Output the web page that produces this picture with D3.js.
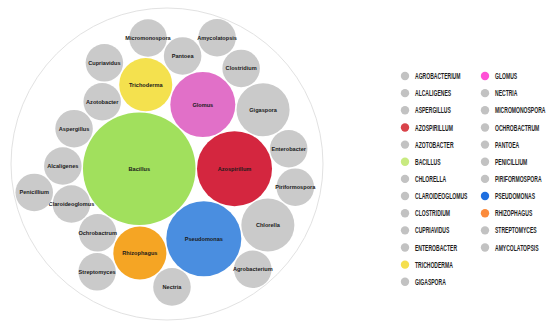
<!DOCTYPE html>
<html>
<head>
<meta charset="utf-8">
<script src="https://cdn.jsdelivr.net/npm/d3@7"></script>
<style>
  body { margin: 0; background: #fff; }
</style>
</head>
<body>
<script>
// genus names, in legend order
let genera = ["Agrobacterium", "Alcaligenes", "Aspergillus", "Azospirillum", "Azotobacter",
  "Bacillus", "Chlorella", "Claroideoglomus", "Clostridium", "Cupriavidus", "Enterobacter",
  "Trichoderma", "Gigaspora", "Glomus", "Nectria", "Micromonospora", "Ochrobactrum",
  "Pantoea", "Penicillium", "Piriformospora", "Pseudomonas", "Rhizophagus",
  "Streptomyces", "Amycolatopsis"];

// counts (same order as genera)
let counts = [1, 1, 1, 4, 1, 9, 2, 1, 1, 1, 1, 2, 2, 3, 1, 1, 1, 1, 1, 1, 4, 2, 1, 1];

// order the bubbles are fed to the pack layout
let packOrder = ["Bacillus", "Azospirillum", "Pseudomonas", "Glomus", "Trichoderma",
  "Rhizophagus", "Gigaspora", "Chlorella", "Azotobacter", "Ochrobactrum", "Pantoea",
  "Nectria", "Enterobacter", "Aspergillus", "Piriformospora", "Claroideoglomus",
  "Clostridium", "Agrobacterium", "Alcaligenes", "Penicillium", "Cupriavidus",
  "Amycolatopsis", "Streptomyces", "Micromonospora"];

// bubble colours, anything not listed is grey
let bubbleColor = {
  Bacillus: "#a1e05d", Azospirillum: "#d4263f", Pseudomonas: "#4a8ee0",
  Glomus: "#e170c8", Trichoderma: "#f4e14e", Rhizophagus: "#f5a524"
};
let legendColor = {
  Bacillus: "#c8ea80", Azospirillum: "#d9434a", Pseudomonas: "#1f6fe0",
  Glomus: "#ff50d6", Trichoderma: "#f5df4e", Rhizophagus: "#fb8b3c"
};
let grey = "#cacaca";

let width = 550, height = 328;

let svg = d3.select("body").append("svg")
    .attr("width", width)
    .attr("height", height);

// pack layout
let data = {children: packOrder.map(g => ({name: g, value: counts[genera.indexOf(g)]}))};
let root = d3.hierarchy(data)
    .sum(d => d.value || 0);

let R = 156;
d3.pack().size([2 * R, 2 * R]).padding(1.5)(root);

let g = svg.append("g")
    .attr("transform", "translate(" + (167 - R) + "," + (164 - R) + ")");

// outer enclosing circle
g.append("circle")
    .attr("cx", root.x)
    .attr("cy", root.y)
    .attr("r", root.r)
    .attr("fill", "#fff")
    .attr("stroke", "#e2e2e2")
    .attr("stroke-width", 1);

let node = g.selectAll("g.node")
    .data(root.leaves())
  .enter().append("g")
    .attr("class", "node")
    .attr("transform", d => "translate(" + d.x + "," + d.y + ")");

node.append("circle")
    .attr("r", d => d.r)
    .attr("fill", d => bubbleColor[d.data.name] || grey);

node.append("text")
    .attr("text-anchor", "middle")
    .attr("dy", "0.35em")
    .style("font-family", "Arial, 'Liberation Sans', sans-serif")
    .style("font-size", "5.6px")
    .style("font-weight", "bold")
    .attr("fill", "#1a1a1a")
    .text(d => d.data.name);

// legend, two columns
let perCol = 13, rowH = 17.15;
let legend = svg.selectAll("g.legend")
    .data(genera)
  .enter().append("g")
    .attr("class", "legend")
    .attr("transform", (d, i) => {
      let col = Math.floor(i / perCol), row = i % perCol;
      return "translate(" + (405 + col * 80) + "," + (76 + row * rowH) + ")";
    });

legend.append("circle")
    .attr("r", 4.2)
    .attr("fill", d => legendColor[d] || "#c2c2c2");

// squeezed to a narrow display-type width
legend.append("text")
    .attr("dy", "0.36em")
    .attr("transform", "translate(10,0) scale(0.58,1)")
    .style("font-family", "'Liberation Sans', Arial, sans-serif")
    .style("font-size", "8.7px")
    .style("font-weight", "bold")
    .attr("fill", "#1e1e1e")
    .text(d => d.toUpperCase());
</script>
</body>
</html>
